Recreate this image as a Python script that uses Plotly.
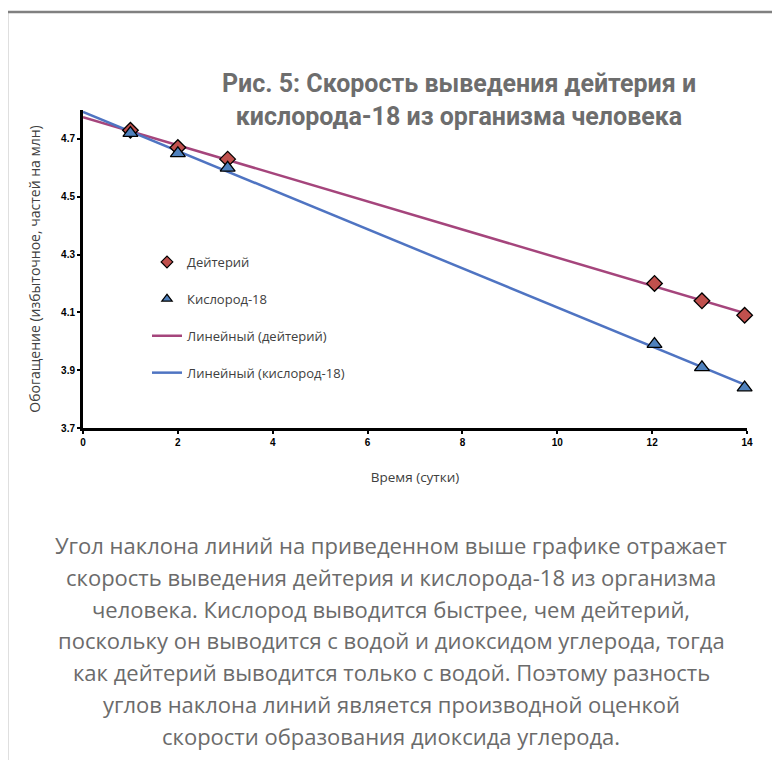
import numpy as np
import plotly.graph_objects as go

# Data
days_d = [1.0, 2.0, 3.05, 12.05, 13.05, 13.95]
deut = [4.73, 4.67, 4.63, 4.20, 4.14, 4.09]
days_o = [1.0, 2.0, 3.05, 12.05, 13.05, 13.95]
oxy = [4.72, 4.65, 4.60, 3.99, 3.91, 3.84]
x_ticks = [0, 2, 4, 6, 8, 10, 12, 14]
y_ticks = [3.7, 3.9, 4.1, 4.3, 4.5, 4.7]
trend_x = [0, 14]

title_text = "Рис. 5: Скорость выведения дейтерия и<br>кислорода-18 из организма человека"
caption_lines = [
    "Угол наклона линий на приведенном выше графике отражает",
    "скорость выведения дейтерия и кислорода-18 из организма",
    "человека. Кислород выводится быстрее, чем дейтерий,",
    "поскольку он выводится с водой и диоксидом углерода, тогда",
    "как дейтерий выводится только с водой. Поэтому разность",
    "углов наклона линий является производной оценкой",
    "скорости образования диоксида углерода.",
]

# linear trends
kd = np.polyfit(days_d, deut, 1)
ko = np.polyfit(days_o, oxy, 1)
trend_d = list(np.polyval(kd, trend_x))
trend_o = list(np.polyval(ko, trend_x))

OFF = 8  # page body margin
W, H = 780 - OFF, 760 - OFF
L, R, T, B = 83 - OFF, 33, 110 - OFF, 332
pw, ph = W - L - R, H - T - B


def px(xp):
    return (xp - OFF - L) / pw


def py(yp):
    return (H - B - (yp - OFF)) / ph


fig = go.Figure()
fig.add_trace(go.Scatter(
    x=trend_x, y=trend_d, mode="lines", showlegend=False,
    line=dict(color="#a5457c", width=2.5)))
fig.add_trace(go.Scatter(
    x=trend_x, y=trend_o, mode="lines", showlegend=False,
    line=dict(color="#4f74c2", width=2.5)))
fig.add_trace(go.Scatter(
    x=days_d, y=deut, mode="markers", showlegend=False,
    marker=dict(symbol="diamond", size=12, color="#c0504d",
                line=dict(color="black", width=1.3)),
    cliponaxis=False))
fig.add_trace(go.Scatter(
    x=days_o, y=oxy, mode="markers", showlegend=False,
    marker=dict(symbol="triangle-up", size=13, color="#4f81bd",
                line=dict(color="black", width=1.3)),
    cliponaxis=False))

# legend entries
fig.add_trace(go.Scatter(
    x=[None], y=[None], mode="markers", name="Дейтерий", legendgroup="a",
    marker=dict(symbol="diamond", size=9, color="#c0504d",
                line=dict(color="black", width=1.2))))
fig.add_trace(go.Scatter(
    x=[None], y=[None], mode="markers", name="Кислород-18", legendgroup="b",
    marker=dict(symbol="triangle-up", size=9, color="#4f81bd",
                line=dict(color="black", width=1.2))))
fig.add_trace(go.Scatter(
    x=[None], y=[None], mode="lines", name="Линейный (дейтерий)", legendgroup="c",
    line=dict(color="#a5457c", width=2.5)))
fig.add_trace(go.Scatter(
    x=[None], y=[None], mode="lines", name="Линейный (кислород-18)", legendgroup="d",
    line=dict(color="#4f74c2", width=2.5)))

fig.update_layout(
    width=W, height=H,
    margin=dict(l=L, r=R, t=T, b=B),
    paper_bgcolor="white", plot_bgcolor="white",
    showlegend=True,
    legend=dict(
        x=px(147), y=py(247), xanchor="left", yanchor="top",
        bgcolor="rgba(0,0,0,0)",
        font=dict(family="Open Sans", size=13, color="#404040"),
        traceorder="grouped", tracegroupgap=17,
    ),
    title=dict(
        text=title_text, x=px(459), xref="paper", xanchor="center",
        y=1 - (92 - OFF) / H, yanchor="middle",
        font=dict(family="Roboto", size=25, color="#6d6d6d", weight="bold"),
    ),
)

fig.update_xaxes(
    range=[0, 14], tickvals=x_ticks, ticktext=[str(v) for v in x_ticks],
    showgrid=False, zeroline=False, showline=True, linecolor="black", linewidth=3,
    ticks="outside", ticklen=3, tickwidth=2, tickcolor="black",
    tickfont=dict(family="Liberation Sans", size=10, color="black", weight="bold"),
    title=dict(text="Время (сутки)", standoff=26,
               font=dict(family="Open Sans", size=13.5, color="#404040")),
)
fig.update_yaxes(
    range=[3.7, 4.8], tickvals=y_ticks, ticktext=[f"{v:.1f}" for v in y_ticks],
    showgrid=False, zeroline=False, showline=True, linecolor="black", linewidth=3,
    ticks="outside", ticklen=3, tickwidth=2, tickcolor="black",
    tickfont=dict(family="Liberation Sans", size=10, color="black", weight="bold"),
    title=dict(text="Обогащение (избыточное, частей на млн)", standoff=18,
               font=dict(family="Open Sans", size=14, color="#404040")),
)

# frame
fig.add_shape(type="rect", xref="paper", yref="paper",
              x0=px(7), x1=px(800), y0=py(790), y1=py(12),
              line=dict(color="#808080", width=2.5), fillcolor="rgba(0,0,0,0)",
              layer="below")

# caption
for i, line in enumerate(caption_lines):
    fig.add_annotation(
        text=line, xref="paper", yref="paper", x=px(391), y=py(545 + 31.8 * i),
        xanchor="center", yanchor="middle", showarrow=False,
        font=dict(family="Open Sans", size=22, color="#6b6b6b"))

fig.write_html("out.html")
